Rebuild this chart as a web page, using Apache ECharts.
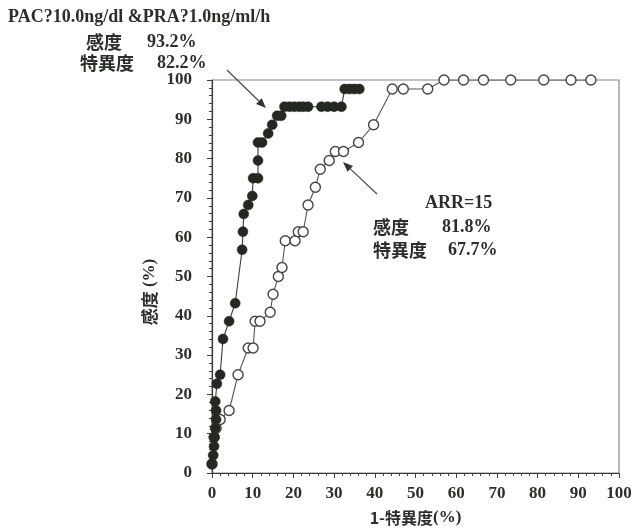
<!DOCTYPE html>
<html>
<head>
<meta charset="utf-8">
<script src="https://cdn.jsdelivr.net/npm/echarts@6/dist/echarts.min.js"></script>
<style>
  html, body { margin: 0; padding: 0; background: #ffffff; }
  #chart { width: 637px; height: 531px; }
</style>
</head>
<body>
<div id="chart"></div>
<script>
// ROC curve: PAC & PRA criterion (filled) vs ARR (open)
const pacPraX = [0, 0.3, 0.5, 0.6, 0.8, 1.0, 1.0, 0.8, 1.2, 2.0, 2.7, 4.2, 5.7,
  7.4, 7.6, 7.8, 8.9, 9.9, 10.1, 11.3, 11.3, 11.3, 12.3, 13.8, 14.8, 16.0, 17.0,
  17.8, 19.0, 20.2, 21.4, 22.4, 23.6, 26.9, 28.4, 30.0, 31.8, 32.6, 33.8, 35.0, 36.2];
const pacPraY = [2.3, 4.5, 6.8, 9.1, 11.4, 13.6, 15.9, 18.2, 22.7, 25.0, 34.1, 38.6, 43.2,
  56.8, 61.4, 65.9, 68.2, 70.5, 75.0, 75.0, 79.5, 84.1, 84.1, 86.4, 88.6, 90.9, 90.9,
  93.2, 93.2, 93.2, 93.2, 93.2, 93.2, 93.2, 93.2, 93.2, 93.2, 97.7, 97.7, 97.7, 97.7];

const arrX = [0, 0.5, 1.0, 2.0, 4.2, 6.4, 8.9, 10.1, 10.6, 11.8, 14.3, 15.0, 16.3, 17.2,
  18.0, 20.4, 21.2, 22.4, 23.6, 25.4, 26.6, 28.8, 30.3, 32.3, 36.0, 39.7, 44.3, 47.0,
  53.0, 57.0, 61.8, 66.7, 73.4, 81.5, 88.2, 93.1];
const arrY = [2.3, 9.1, 11.4, 13.6, 15.9, 25.0, 31.8, 31.8, 38.6, 38.6, 40.9, 45.5, 50.0, 52.3,
  59.1, 59.1, 61.4, 61.4, 68.2, 72.7, 77.3, 79.5, 81.8, 81.8, 84.1, 88.6, 97.7, 97.7,
  97.7, 100, 100, 100, 100, 100, 100, 100];

const xTicks = [0, 10, 20, 30, 40, 50, 60, 70, 80, 90, 100];
const yTicks = [0, 10, 20, 30, 40, 50, 60, 70, 80, 90, 100];

const SERIF = '"Liberation Serif", "DejaVu Serif", serif';
const CJK = '"Noto Sans CJK JP", "Noto Sans CJK SC", sans-serif';
const INK = '#2b2f29';
const LINE = '#3c3c3c';

const pairs = (xs, ys) => xs.map((x, i) => [x, ys[i]]);

// arrow made of a shaft and a filled triangular head
function arrow(x1, y1, x2, y2) {
  const a = Math.atan2(y2 - y1, x2 - x1);
  const L = 10, W = 4;
  const bx = x2 - L * Math.cos(a), by = y2 - L * Math.sin(a);
  const px = -Math.sin(a) * W, py = Math.cos(a) * W;
  return [
    { type: 'line', shape: { x1, y1, x2: bx, y2: by }, style: { stroke: '#4a4a4a', lineWidth: 1.2 } },
    { type: 'polygon', shape: { points: [[x2, y2], [bx + px, by + py], [bx - px, by - py]] },
      style: { fill: '#333' } }
  ];
}

function txt(x, y, text, font, size, extra) {
  return Object.assign({ type: 'text', x, y, style: {
    text, fontFamily: font, fontSize: size, fontWeight: 'bold', fill: INK,
    align: 'left', verticalAlign: 'middle' } }, extra || {});
}

const chart = echarts.init(document.getElementById('chart'));
chart.setOption({
  backgroundColor: '#ffffff',
  animation: false,
  grid: { left: 212, right: 18, top: 80, bottom: 56, show: true,
    borderColor: '#7d8a90', borderWidth: 1.2, backgroundColor: 'transparent' },
  xAxis: {
    type: 'value', min: 0, max: 100, interval: 10,
    name: '{c|1-特異度}{s|(%)}', nameLocation: 'middle', nameGap: 36,
    nameTextStyle: { rich: {
      c: { fontFamily: CJK, fontWeight: 'bold', fontSize: 16, color: INK },
      s: { fontFamily: SERIF, fontWeight: 'bold', fontSize: 17, color: INK } } },
    axisLine: { lineStyle: { color: LINE, width: 1.2 } },
    axisTick: { show: true, length: 5, lineStyle: { color: LINE } },
    minorTick: { show: true, splitNumber: 5, length: 3, lineStyle: { color: LINE } },
    splitLine: { show: false },
    axisLabel: { fontFamily: SERIF, fontWeight: 'bold', fontSize: 17, color: INK, margin: 12,
      formatter: v => xTicks.includes(v) ? String(v) : '' }
  },
  yAxis: {
    type: 'value', min: 0, max: 100, interval: 10,
    axisLine: { lineStyle: { color: LINE, width: 1.2 } },
    axisTick: { show: true, length: 5, lineStyle: { color: LINE } },
    minorTick: { show: true, splitNumber: 5, length: 3, lineStyle: { color: LINE } },
    splitLine: { show: false },
    axisLabel: { fontFamily: SERIF, fontWeight: 'bold', fontSize: 17, color: INK, margin: 20,
      formatter: v => yTicks.includes(v) ? String(v) : '' }
  },
  series: [
    {
      name: 'ARR', type: 'line', data: pairs(arrX, arrY),
      symbol: 'circle', symbolSize: 10,
      itemStyle: { color: '#ffffff', borderColor: '#444', borderWidth: 1.4 },
      lineStyle: { color: '#555', width: 1.1 }, z: 2
    },
    {
      name: 'PAC & PRA', type: 'line', data: pairs(pacPraX, pacPraY),
      symbol: 'circle', symbolSize: 10,
      itemStyle: { color: '#232820', borderColor: '#232820', borderWidth: 0.5 },
      lineStyle: { color: '#3a3a3a', width: 1.1 }, z: 3
    }
  ],
  graphic: [
    txt(8, 17, 'PAC?10.0ng/dl &PRA?1.0ng/ml/h', SERIF, 18),
    txt(86, 42, '感度', CJK, 18),
    txt(147, 42, '93.2%', SERIF, 18),
    txt(80, 63, '特異度', CJK, 18),
    txt(157, 63, '82.2%', SERIF, 18),
    txt(425, 203, 'ARR=15', SERIF, 18),
    txt(373, 227, '感度', CJK, 18),
    txt(442, 227, '81.8%', SERIF, 18),
    txt(373, 250, '特異度', CJK, 18),
    txt(448, 250, '67.7%', SERIF, 18),
    // vertical axis title
    {
      type: 'text', x: 150, y: 292, rotation: Math.PI / 2,
      style: { text: '{c|感度}{s| (%)}', align: 'center', verticalAlign: 'middle',
        rich: {
          c: { fontFamily: CJK, fontWeight: 'bold', fontSize: 17, fill: INK },
          s: { fontFamily: SERIF, fontWeight: 'bold', fontSize: 17, fill: INK } } }
    },
    ...arrow(227, 70, 266, 108),
    ...arrow(377, 194, 343, 162)
  ]
});
</script>
</body>
</html>
